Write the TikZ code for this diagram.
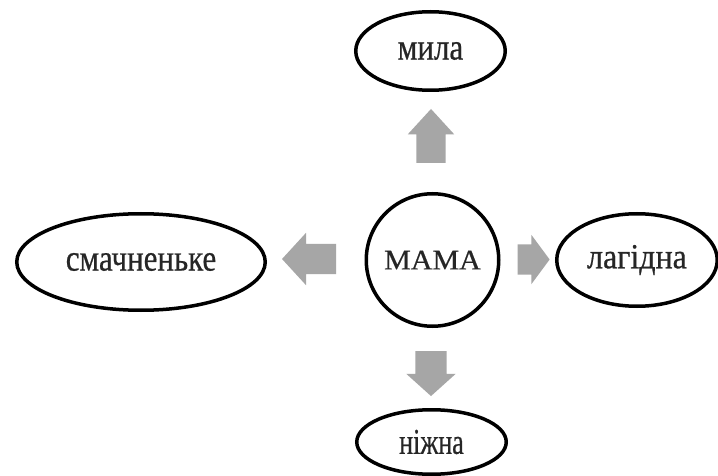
\documentclass[tikz,border=0pt]{standalone}
\usepackage{fontspec}
\setmainfont[FakeBold=0.6]{Liberation Serif}
\usetikzlibrary{shapes.geometric,shapes.arrows}
\definecolor{arrowgray}{HTML}{A6A6A6}
\newcommand{\wordtxt}[3]{\fontsize{#1}{#1}\selectfont\scalebox{1}[#2]{#3}}
\tikzset{
  bubble/.style={ellipse,draw=black,line width=3.5pt,fill=white,inner sep=0pt,text=black!85},
  blockarrow/.style={single arrow,fill=arrowgray,draw=none,minimum width=0pt,single arrow head indent=0pt}
}
\begin{document}
\begin{tikzpicture}[x=1pt,y=-1pt]
\useasboundingbox[fill=white] (0,0) rectangle (718,476);
\node[bubble,minimum width=149.5pt,minimum height=78.5pt] (mila) at (430.5,51) {\wordtxt{31}{1.2}{мила}};
\node[bubble,circle,minimum size=132.5pt] (mama) at (432.5,260) {\wordtxt{30}{0.95}{МАМА}};
\node[bubble,minimum width=160.5pt,minimum height=92.5pt] (lag) at (637,260) {\wordtxt{32}{1.1}{лагідна}};
\node[bubble,minimum width=248.5pt,minimum height=96.5pt] (smach) at (141,262) {\wordtxt{31}{1.2}{смачненьке}};
\node[bubble,minimum width=149.5pt,minimum height=64.5pt] (nizh) at (431.5,442) {\wordtxt{26}{1.4}{ніжна}};
% block arrows
\node[blockarrow,shape border rotate=90,inner xsep=14.5pt,inner ysep=0pt,single arrow head extend=8.5pt,single arrow tip angle=85,minimum height=54pt] (aup) at (431,144) {};
\node[blockarrow,shape border rotate=0,inner xsep=0pt,inner ysep=15pt,single arrow head extend=9.5pt,single arrow tip angle=107,minimum height=32pt] (aright) at (528,259.5) {};
\node[blockarrow,shape border rotate=180,inner xsep=0pt,inner ysep=15pt,single arrow head extend=11pt,single arrow tip angle=95,minimum height=54pt] (aleft) at (316,259) {};
\node[blockarrow,shape border rotate=270,inner xsep=15.5pt,inner ysep=0pt,single arrow head extend=9pt,single arrow tip angle=96,minimum height=45pt] (adown) at (431,366.5) {};
\end{tikzpicture}
\end{document}
